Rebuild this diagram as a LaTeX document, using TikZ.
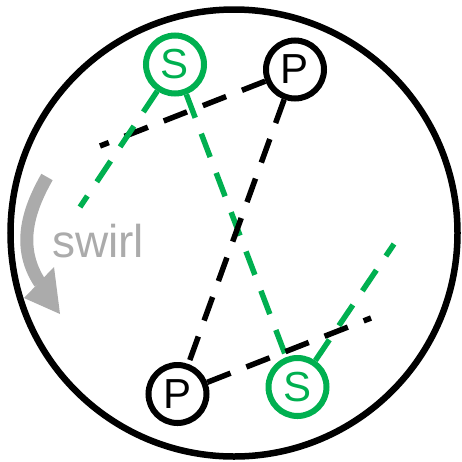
\documentclass[tikz,border=0pt]{standalone}
\usepackage{fontspec}
\newfontfamily\labelfont{Liberation Sans}
\definecolor{sgreen}{HTML}{00B050}
\definecolor{swirlgray}{HTML}{ABABAB}
\begin{document}
\begin{tikzpicture}[x=1pt,y=-1pt,
  particle/.style={circle,draw,line width=6pt,minimum size=58pt,inner sep=0pt,
    font=\labelfont\fontsize{42}{42}\selectfont},
  pnode/.style={particle,draw=black,text=black},
  snode/.style={particle,draw=sgreen,text=sgreen},
  link/.style={line width=5.5pt,dash pattern=on 25pt off 17pt},
  blink/.style={link,draw=black},
  glink/.style={link,draw=sgreen}]
  \useasboundingbox (0,0) rectangle (462,461);

  % outer boundary
  \draw[line width=6.5pt] (234,233) circle[radius=223.5];

  % particles
  \node[snode] (s1) at (175,64.5) {S};
  \node[pnode] (p1) at (295,69.5) {P};
  \node[pnode] (p2) at (177.5,394) {P};
  \node[snode] (s2) at (297.5,387) {S};

  % free ends of the open links
  \coordinate (pend) at (100,146);
  \coordinate (send) at (80,207);
  \coordinate (p2end) at (371,318);
  \coordinate (s2end) at (394,244);

  % links
  \draw[blink] (p1) -- (pend);
  \draw[glink] (s1) -- (send);
  \draw[glink] (s1) -- (s2);
  \draw[blink] (p1) -- (p2);
  \draw[blink] (p2) -- (p2end);
  \draw[glink] (s2) -- (s2end);

  % swirl arrow and label
  \draw[swirlgray,line width=13pt] (47,177) .. controls (27,212) and (17,248) .. (40,283);
  \fill[swirlgray] (24,298) -- (54,267) -- (60,314) -- cycle;
  \node[anchor=base west,inner sep=0pt,text=swirlgray,
    font=\labelfont\fontsize{46}{46}\selectfont] (swirl) at (52,257) {swirl};
\end{tikzpicture}
\end{document}
